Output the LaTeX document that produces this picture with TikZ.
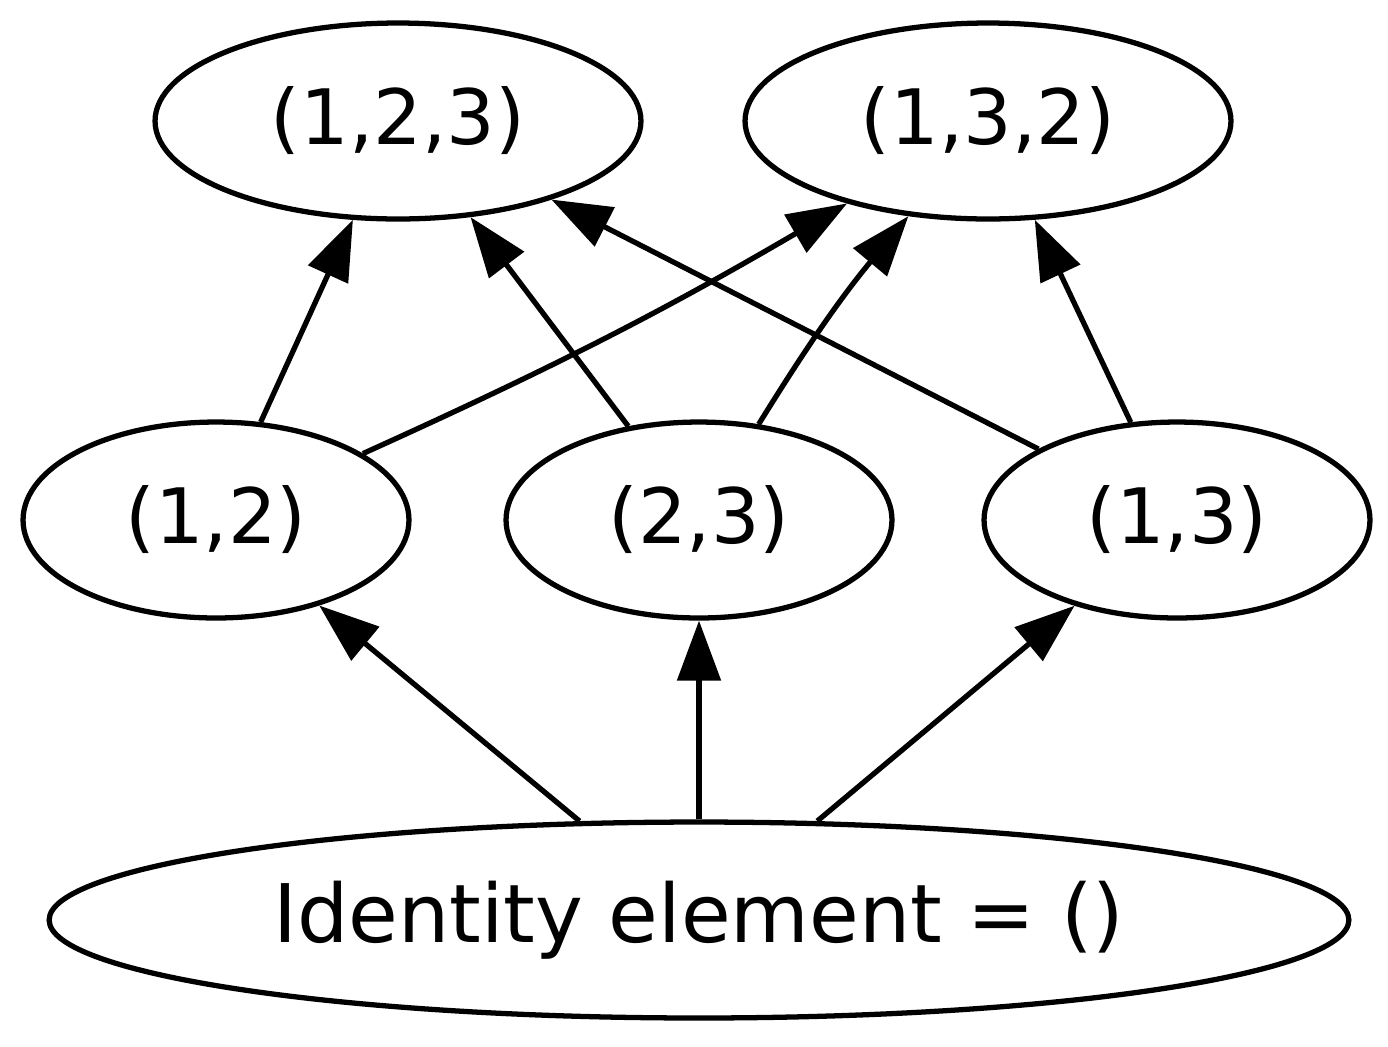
\documentclass[tikz,border=0pt]{standalone}
\usepackage{fontspec}
\setmainfont{DejaVu Sans}
\usetikzlibrary{arrows.meta, shapes.geometric}

\begin{document}
\begin{tikzpicture}[
    x=0.02cm,
    y=-0.02cm,
    >={Triangle[length=1.2cm, width=0.86cm]},
    perm/.style={ellipse, draw, line width=3pt, inner sep=0pt, minimum width=9.72cm, minimum height=3.92cm,
        font=\fontsize{43.5}{50}\selectfont},
    small/.style={perm, minimum width=7.72cm},
    big/.style={perm, minimum width=26cm, font=\fontsize{46}{54}\selectfont},
    line/.style={->, line width=3pt}
]
\useasboundingbox (0,0) rectangle (1388,1046);
\node[perm] (p123) at (398,121) {(1,2,3)};
\node[perm] (p132) at (988,121) {(1,3,2)};
\node[small] (t12) at (216,520) {(1,2)};
\node[small] (t23) at (699,520) {(2,3)};
\node[small] (t13) at (1177,520) {(1,3)};
\node[big] (id) at (699,920) {Identity element = ()};

\draw[line] (id) -- (t12);
\draw[line] (id) -- (t23);
\draw[line] (id) -- (t13);
\draw[line] (t12) -- (p123);
\draw[line] (t12) to[bend right=3] (p132);
\draw[line] (t23) -- (p123);
\draw[line] (t23) to[bend left=4] (p132);
\draw[line] (t13) -- (p123);
\draw[line] (t13) -- (p132);
\end{tikzpicture}
\end{document}
